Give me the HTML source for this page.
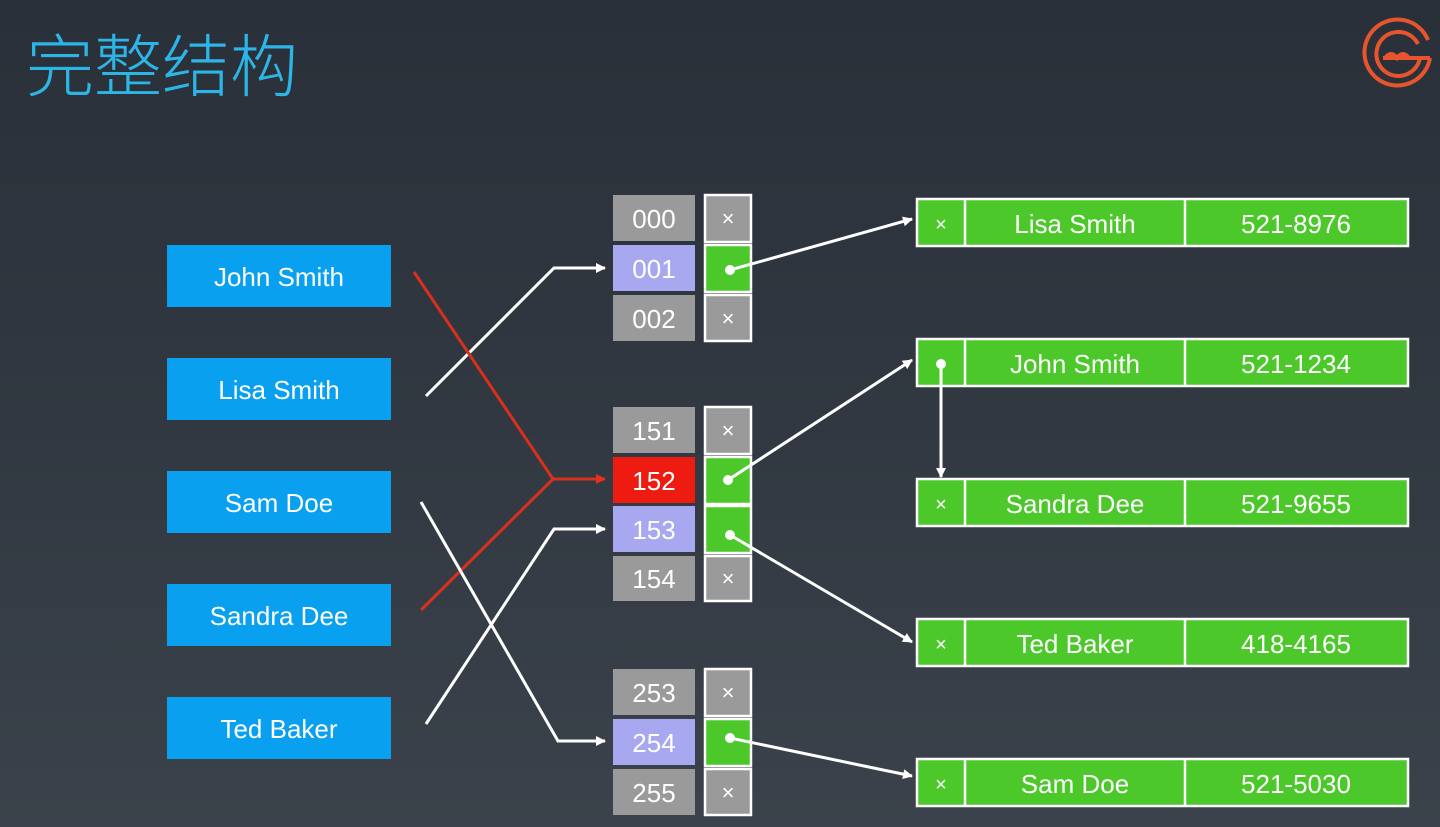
<!DOCTYPE html>
<html><head><meta charset="utf-8"><style>
html,body{margin:0;padding:0;}
body{width:1440px;height:827px;overflow:hidden;background:linear-gradient(180deg,#2a3039 0%,#313841 50%,#3b424b 100%);}
svg{display:block;font-family:"Liberation Sans","Noto Sans CJK SC",sans-serif;}
</style></head><body>
<svg width="1440" height="827" viewBox="0 0 1440 827" xmlns="http://www.w3.org/2000/svg">
<defs>
<marker id="aw" markerWidth="10" markerHeight="10" refX="9" refY="5" orient="auto" markerUnits="userSpaceOnUse"><path d="M0,0 L10,5 L0,10 Z" fill="#fff"/></marker>
<marker id="ar" markerWidth="10" markerHeight="10" refX="9" refY="5" orient="auto" markerUnits="userSpaceOnUse"><path d="M0,0 L10,5 L0,10 Z" fill="#e8301c"/></marker>
</defs>
<text x="26" y="91" font-size="68" fill="#2cb6e8" font-family="'Noto Sans CJK SC',sans-serif" font-weight="300">完整结构</text>
<!-- logo -->
<g fill="none" stroke="#e8552c" stroke-width="4">
<path d="M1428,40 A33,33 0 1 0 1430,58"/>
<path d="M1418,44 A22,22 0 1 0 1420,58"/>
<path d="M1383,58 L1430,58"/>
<path d="M1385,58 q6,-8 12,0 q6,-8 12,0"/>
</g>
<!-- left boxes -->
<g fill="#0aa0f0">
<rect x="167" y="245" width="224" height="62"/>
<rect x="167" y="358" width="224" height="62"/>
<rect x="167" y="471" width="224" height="62"/>
<rect x="167" y="584" width="224" height="62"/>
<rect x="167" y="697" width="224" height="62"/>
</g>
<g fill="#fff" font-size="26" text-anchor="middle">
<text x="279" y="286">John Smith</text>
<text x="279" y="399">Lisa Smith</text>
<text x="279" y="512">Sam Doe</text>
<text x="279" y="625">Sandra Dee</text>
<text x="279" y="738">Ted Baker</text>
</g>
<!-- index cells -->
<g font-size="26" text-anchor="middle" fill="#fff">
<rect x="613" y="195" width="82" height="46" fill="#9a9a9a"/><text x="654" y="228">000</text>
<rect x="613" y="245" width="82" height="46" fill="#a8a8f0"/><text x="654" y="278">001</text>
<rect x="613" y="295" width="82" height="46" fill="#9a9a9a"/><text x="654" y="328">002</text>
<rect x="613" y="407" width="82" height="46" fill="#9a9a9a"/><text x="654" y="440">151</text>
<rect x="613" y="457" width="82" height="46" fill="#ee1c10"/><text x="654" y="490">152</text>
<rect x="613" y="506" width="82" height="46" fill="#a8a8f0"/><text x="654" y="539">153</text>
<rect x="613" y="556" width="82" height="45" fill="#9a9a9a"/><text x="654" y="588">154</text>
<rect x="613" y="669" width="82" height="46" fill="#9a9a9a"/><text x="654" y="702">253</text>
<rect x="613" y="719" width="82" height="46" fill="#a8a8f0"/><text x="654" y="752">254</text>
<rect x="613" y="769" width="82" height="46" fill="#9a9a9a"/><text x="654" y="802">255</text>
</g>
<!-- pointer cells -->
<g stroke="#fff" stroke-width="2.5">
<rect x="705" y="195" width="46" height="47" fill="#9a9a9a"/>
<rect x="705" y="245" width="46" height="47" fill="#4cc82a"/>
<rect x="705" y="295" width="46" height="46" fill="#9a9a9a"/>
<rect x="705" y="407" width="46" height="47" fill="#9a9a9a"/>
<rect x="705" y="457" width="46" height="47" fill="#4cc82a"/>
<rect x="705" y="506" width="46" height="47" fill="#4cc82a"/>
<rect x="705" y="556" width="46" height="45" fill="#9a9a9a"/>
<rect x="705" y="669" width="46" height="47" fill="#9a9a9a"/>
<rect x="705" y="719" width="46" height="47" fill="#4cc82a"/>
<rect x="705" y="769" width="46" height="46" fill="#9a9a9a"/>
</g>
<g fill="#fff" font-size="22" text-anchor="middle">
<text x="728" y="226">×</text><text x="728" y="326">×</text><text x="728" y="438">×</text><text x="728" y="586">×</text><text x="728" y="700">×</text><text x="728" y="800">×</text>
</g>
<!-- records -->
<g stroke="#fff" stroke-width="2.5" fill="#4cc82a">
<rect x="917" y="199" width="491" height="47"/><line x1="965" y1="199" x2="965" y2="246"/><line x1="1185" y1="199" x2="1185" y2="246"/>
<rect x="917" y="339" width="491" height="47"/><line x1="965" y1="339" x2="965" y2="386"/><line x1="1185" y1="339" x2="1185" y2="386"/>
<rect x="917" y="479" width="491" height="47"/><line x1="965" y1="479" x2="965" y2="526"/><line x1="1185" y1="479" x2="1185" y2="526"/>
<rect x="917" y="619" width="491" height="47"/><line x1="965" y1="619" x2="965" y2="666"/><line x1="1185" y1="619" x2="1185" y2="666"/>
<rect x="917" y="759" width="491" height="47"/><line x1="965" y1="759" x2="965" y2="806"/><line x1="1185" y1="759" x2="1185" y2="806"/>
</g>
<g fill="#fff" font-size="26" text-anchor="middle">
<text x="941" y="231" font-size="20">×</text><text x="1075" y="233">Lisa Smith</text><text x="1296" y="233">521-8976</text>
<text x="1075" y="373">John Smith</text><text x="1296" y="373">521-1234</text>
<text x="941" y="511" font-size="20">×</text><text x="1075" y="513">Sandra Dee</text><text x="1296" y="513">521-9655</text>
<text x="941" y="651" font-size="20">×</text><text x="1075" y="653">Ted Baker</text><text x="1296" y="653">418-4165</text>
<text x="941" y="791" font-size="20">×</text><text x="1075" y="793">Sam Doe</text><text x="1296" y="793">521-5030</text>
</g>
<!-- connectors -->
<g fill="none" stroke-width="3">
<polyline points="426,396 554,268 605,268" stroke="#fff" marker-end="url(#aw)"/>
<polyline points="414,272 553,479" stroke="#d8301c"/>
<polyline points="421,610 553,479 605,479" stroke="#d8301c" marker-end="url(#ar)"/>
<polyline points="421,502 558,741 605,741" stroke="#fff" marker-end="url(#aw)"/>
<polyline points="426,724 554,529 605,529" stroke="#fff" marker-end="url(#aw)"/>
<line x1="730" y1="270" x2="912" y2="219" stroke="#fff" marker-end="url(#aw)"/>
<line x1="728" y1="480" x2="912" y2="360" stroke="#fff" marker-end="url(#aw)"/>
<line x1="730" y1="535" x2="912" y2="642" stroke="#fff" marker-end="url(#aw)"/>
<line x1="730" y1="738" x2="912" y2="776" stroke="#fff" marker-end="url(#aw)"/>
<line x1="941" y1="364" x2="941" y2="477" stroke="#fff" marker-end="url(#aw)"/>
</g>
<g fill="#fff">
<circle cx="730" cy="270" r="5"/><circle cx="728" cy="480" r="5"/><circle cx="730" cy="535" r="5"/><circle cx="730" cy="738" r="5"/><circle cx="941" cy="364" r="5"/>
</g>
</svg>
</body></html>
